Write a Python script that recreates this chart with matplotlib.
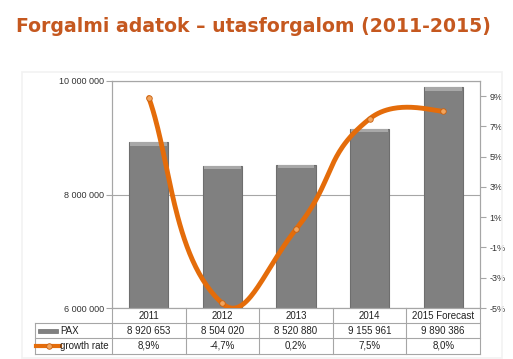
import numpy as np
import matplotlib.pyplot as plt
import matplotlib.transforms as mtransforms
from matplotlib.patches import Rectangle
from matplotlib.lines import Line2D

years = ["2011", "2012", "2013", "2014", "2015 Forecast"]
pax = [8920653, 8504020, 8520880, 9155961, 9890386]
growth = [8.9, -4.7, 0.2, 7.5, 8.0]
pax_labels = ["8 920 653", "8 504 020", "8 520 880", "9 155 961", "9 890 386"]
growth_labels = ["8,9%", "-4,7%", "0,2%", "7,5%", "8,0%"]
left_ticks = [6000000, 8000000, 10000000]
right_ticks = [-5, -3, -1, 1, 3, 5, 7, 9]

W, H = 513, 359
orange = "#e46c0a"
grid = "#a6a6a6"
plt.rcParams['font.family'] = ['Liberation Sans', 'DejaVu Sans']

fig = plt.figure(figsize=(W / 100, H / 100), dpi=100)
fig.patch.set_facecolor("white")

def fx(px):
    return px / W

def fy(py):
    return 1 - py / H

# faint chart frame
fig.add_artist(Rectangle((fx(22), fy(358)), fx(480), fy(72) - fy(358), transform=fig.transFigure,
                         fill=False, edgecolor="#f2f2f2", lw=1.2))

fig.text(fx(253), fy(27), "Forgalmi adatok – utasforgalom (2011-2015)", ha="center", va="center",
         fontsize=13.6, fontweight="bold", color="#c5581f", family="DejaVu Sans")

ax = fig.add_axes([fx(112), fy(308), fx(480) - fx(112), fy(81) - fy(308)])
x = np.arange(len(years))
ax.bar(x, [p - 6000000 for p in pax], bottom=6000000, width=0.53, color="#808080",
       edgecolor="#6e6e6e", linewidth=0.8, zorder=2)
# light bevel on bar tops
ax.bar(x, [60000] * len(pax), bottom=[p - 60000 for p in pax], width=0.5, color="#a8a8a8",
       linewidth=0, zorder=2.5)
ax.set_xlim(-0.5, len(years) - 0.5)
ax.set_ylim(6000000, 10000000)
ax.set_yticks(left_ticks)
ax.set_yticklabels([f"{v:,}".replace(",", " ") for v in left_ticks], fontsize=6.5, color="#333333")
ax.set_xticks([])
ax.yaxis.grid(True, color=grid, lw=0.8, zorder=0)
ax.tick_params(axis="y", length=4, color=grid, pad=2)
for s in ["left", "top", "right", "bottom"]:
    ax.spines[s].set_color(grid)
    ax.spines[s].set_linewidth(0.8)

ax2 = ax.twinx()
ax2.set_ylim(-5, 10)
ax2.set_yticks(right_ticks)
ax2.set_yticklabels([f"{v}%" for v in right_ticks], fontsize=6.5, color="#333333")
ax2.tick_params(axis="y", length=4, color=grid, pad=3)
for s in ["left", "top", "right", "bottom"]:
    ax2.spines[s].set_color(grid)
    ax2.spines[s].set_linewidth(0.8)

# smoothed line, Excel-like: Bezier segments in screen space,
# control arms along (next - prev) scaled by neighbouring segment lengths
pts = ax2.transData.transform(np.column_stack([x, growth]).astype(float))
n = len(pts)
seglen = np.hypot(*np.diff(pts, axis=0).T)
f = 0.5
fwd, back = [], []
for i in range(n):
    if i == 0:
        fwd.append(pts[0] + (pts[1] - pts[0]) * 0.3)
        back.append(pts[0])
        continue
    if i == n - 1:
        fwd.append(pts[i])
        back.append(pts[i] - (pts[i] - pts[i - 1]) * 0.1)
        continue
    T = pts[i + 1] - pts[i - 1]
    dp, dn = seglen[i - 1], seglen[i]
    fwd.append(pts[i] + T * f * dn / (dp + dn))
    back.append(pts[i] - T * f * dp / (dp + dn))
tt = np.linspace(0, 1, 60)[:, None]
curve = []
for i in range(n - 1):
    p0, c1, c2, p3 = pts[i], fwd[i], back[i + 1], pts[i + 1]
    curve.append((1 - tt) ** 3 * p0 + 3 * (1 - tt) ** 2 * tt * c1 + 3 * (1 - tt) * tt ** 2 * c2 + tt ** 3 * p3)
curve = ax2.transData.inverted().transform(np.vstack(curve))
ax2.plot(curve[:, 0], curve[:, 1], color=orange, lw=3.5, solid_capstyle="round", zorder=3)
ax2.plot(x, growth, "o", color="#f2a45c", mec="#c86010", mew=0.6, ms=4, zorder=4)

# data table below the plot
tr = mtransforms.blended_transform_factory(ax.transData, fig.transFigure)
tab_left = -0.5 - (112 - 35) / ((480 - 112) / len(years))
line_kw = dict(color=grid, lw=0.8, clip_on=False)
for b in np.arange(-0.5, len(years), 1.0):
    fig.add_artist(Line2D([b, b], [fy(308), fy(354)], transform=tr, **line_kw))
fig.add_artist(Line2D([tab_left, tab_left], [fy(323), fy(354)], transform=tr, **line_kw))
for yy in [323, 338, 354]:
    fig.add_artist(Line2D([tab_left, len(years) - 0.5], [fy(yy), fy(yy)], transform=tr, **line_kw))

for i in range(len(years)):
    fig.text(x[i], fy(316), years[i], transform=tr, ha="center", va="center", fontsize=7, color="#222222")
    fig.text(x[i], fy(331), pax_labels[i], transform=tr, ha="center", va="center", fontsize=7, color="#222222")
    fig.text(x[i], fy(346), growth_labels[i], transform=tr, ha="center", va="center", fontsize=7, color="#222222")

# legend keys in table
fig.add_artist(Rectangle((fx(38), fy(333)), fx(20), fy(329) - fy(333), transform=fig.transFigure,
                         facecolor="#808080", edgecolor="#6e6e6e", lw=0.5))
fig.add_artist(Line2D([fx(36), fx(60)], [fy(346), fy(346)], transform=fig.transFigure,
                      color=orange, lw=3))
fig.add_artist(Line2D([fx(49)], [fy(346)], transform=fig.transFigure, marker="o", ms=4,
                      color="#f2a45c", mec="#c86010", mew=0.6))
fig.text(fx(60), fy(331), "PAX", ha="left", va="center", fontsize=7, color="#222222")
fig.text(fx(60), fy(346), "growth rate", ha="left", va="center", fontsize=7, color="#222222")

fig.savefig("out.png", dpi=100)
